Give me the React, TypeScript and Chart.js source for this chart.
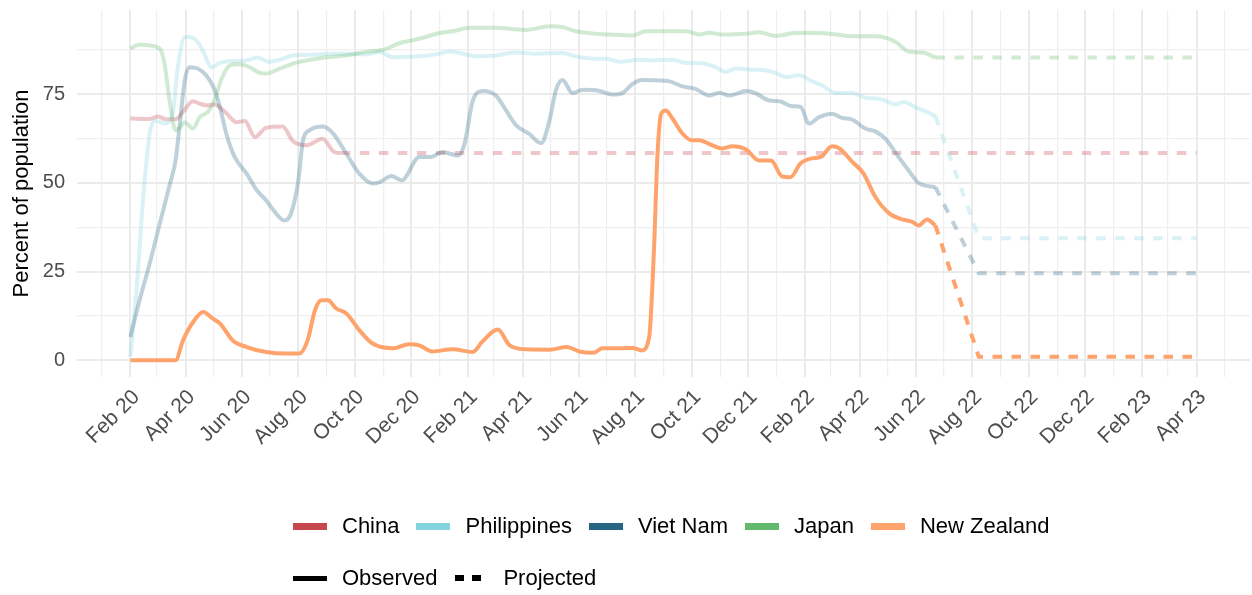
import React, { useEffect, useRef } from 'react';
import { Chart, registerables } from 'chart.js';
Chart.register(...registerables);

// ---------- axis ticks ----------
const xMajorDates = ['2020-02-01','2020-04-01','2020-06-01','2020-08-01','2020-10-01','2020-12-01','2021-02-01','2021-04-01','2021-06-01','2021-08-01','2021-10-01','2021-12-01','2022-02-01','2022-04-01','2022-06-01','2022-08-01','2022-10-01','2022-12-01','2023-02-01','2023-04-01'];
const xMajorLabels = ['Feb 20','Apr 20','Jun 20','Aug 20','Oct 20','Dec 20','Feb 21','Apr 21','Jun 21','Aug 21','Oct 21','Dec 21','Feb 22','Apr 22','Jun 22','Aug 22','Oct 22','Dec 22','Feb 23','Apr 23'];
const xMinorDates = ['2020-01-01','2020-03-01','2020-05-01','2020-07-01','2020-09-01','2020-11-01','2021-01-01','2021-03-01','2021-05-01','2021-07-01','2021-09-01','2021-11-01','2022-01-01','2022-03-01','2022-05-01','2022-07-01','2022-09-01','2022-11-01','2023-01-01','2023-03-01','2023-05-01'];
const yMajorTicks = [0, 25, 50, 75];
const yMinorTicks = [12.5, 37.5, 62.5, 87.5];

// ---------- series ----------
const chinaDates = ['2020-02-01','2020-02-22','2020-03-02','2020-03-11','2020-03-21','2020-03-29','2020-04-09','2020-04-16','2020-04-25','2020-05-02','2020-05-15','2020-05-26','2020-06-04','2020-06-15','2020-06-27','2020-07-15','2020-07-26','2020-08-10','2020-08-27','2020-09-09','2020-09-16'];
const chinaValues = [68.1,68,68.7,67.9,67.9,70,73,72.3,71.8,72.1,69.6,67.1,67.4,62.9,65.5,65.9,61.8,60.6,62.4,58.7,58.4];
const chinaProjDates = ['2020-09-16','2023-04-01'];
const chinaProjValues = [58.4,58.4];

const philDates = ['2020-02-01','2020-02-08','2020-02-15','2020-02-22','2020-02-28','2020-03-09','2020-03-18','2020-03-23','2020-03-31','2020-04-05','2020-04-14','2020-04-21','2020-04-29','2020-05-08','2020-05-22','2020-06-06','2020-06-17','2020-07-01','2020-07-12','2020-07-26','2020-08-17','2020-09-01','2020-09-22','2020-10-13','2020-10-28','2020-11-11','2020-12-06','2020-12-28','2021-01-12','2021-01-26','2021-02-10','2021-03-03','2021-03-25','2021-04-15','2021-05-14','2021-05-29','2021-06-19','2021-06-30','2021-07-15','2021-08-05','2021-08-19','2021-09-10','2021-09-25','2021-10-12','2021-10-27','2021-11-07','2021-11-18','2021-12-05','2021-12-20','2021-12-31','2022-01-11','2022-01-25','2022-02-08','2022-02-19','2022-03-06','2022-03-24','2022-04-07','2022-04-25','2022-05-10','2022-05-19','2022-06-01','2022-06-15','2022-06-22'];
const philValues = [1,20.7,46,63.9,67.6,66.7,69.6,81.7,91.1,91.1,89.7,86.4,82.6,83.8,84.3,84.5,85.3,84.1,84.7,85.9,86.1,86.4,86.4,86.2,86.9,85.4,85.6,86.2,87,86.4,85.7,85.9,86.7,86.4,86.6,85.6,85,85,84.1,84.7,84.5,84.7,83.8,83.7,82.6,81.2,82.2,81.9,81.7,81,79.8,80.3,78.7,77.5,75.3,75.3,74,73.5,72.1,72.8,71.2,69.7,68.8];
const philProjDates = ['2022-06-22','2022-08-08','2023-04-01'];
const philProjValues = [68.8,34.4,34.4];

const vietDates = ['2020-02-01','2020-02-11','2020-02-22','2020-03-04','2020-03-15','2020-03-21','2020-03-26','2020-03-31','2020-04-05','2020-04-14','2020-04-23','2020-05-01','2020-05-08','2020-05-15','2020-05-24','2020-06-06','2020-06-17','2020-06-27','2020-07-05','2020-07-17','2020-07-24','2020-08-01','2020-08-06','2020-08-13','2020-08-28','2020-09-08','2020-09-22','2020-10-06','2020-10-21','2020-10-28','2020-11-10','2020-11-21','2020-12-10','2020-12-23','2021-01-04','2021-01-21','2021-01-28','2021-02-06','2021-02-17','2021-03-03','2021-03-14','2021-03-25','2021-04-08','2021-04-21','2021-04-30','2021-05-07','2021-05-14','2021-05-25','2021-06-05','2021-06-23','2021-07-07','2021-07-18','2021-07-29','2021-08-08','2021-08-23','2021-09-07','2021-09-21','2021-10-05','2021-10-20','2021-10-31','2021-11-11','2021-11-29','2021-12-09','2021-12-24','2022-01-04','2022-01-18','2022-01-27','2022-02-05','2022-02-16','2022-03-02','2022-03-13','2022-03-24','2022-04-07','2022-04-18','2022-04-29','2022-05-13','2022-05-24','2022-06-04','2022-06-22'];
const vietValues = [6.6,16.9,27.3,38.6,49.8,56.3,67.6,78.9,82.6,82.2,80.3,77,71.4,63.8,57.3,52.6,47.9,45.1,42.3,39.4,41.3,50.7,62,64.8,65.9,63.8,58.2,52.6,49.8,50.2,51.9,50.7,57.3,57.3,58.7,57.7,61,73.2,75.9,74.6,70.4,66.2,63.8,61.2,67.6,76.1,79,75.3,76.2,75.9,74.9,75.3,77.9,79,78.9,78.6,77.2,76.5,74.6,75.4,74.6,75.9,75.3,73.2,73,71.6,71.4,66.7,68.5,69.5,68.3,67.8,65.3,64.5,62.4,57.3,53.5,49.9,48.8];
const vietProjDates = ['2022-06-22','2022-08-08','2023-04-01'];
const vietProjValues = [48.8,24.5,24.5];

const japanDates = ['2020-02-01','2020-02-11','2020-02-22','2020-03-04','2020-03-09','2020-03-15','2020-03-21','2020-03-26','2020-03-31','2020-04-09','2020-04-16','2020-04-25','2020-05-02','2020-05-10','2020-05-19','2020-05-30','2020-06-09','2020-06-20','2020-06-27','2020-07-12','2020-07-26','2020-08-10','2020-09-01','2020-09-22','2020-10-13','2020-11-01','2020-11-19','2020-12-10','2021-01-01','2021-01-15','2021-02-02','2021-03-03','2021-03-18','2021-04-05','2021-04-30','2021-05-14','2021-05-29','2021-06-19','2021-07-11','2021-07-29','2021-08-12','2021-09-25','2021-10-09','2021-10-20','2021-11-03','2021-11-29','2021-12-13','2021-12-31','2022-01-22','2022-02-16','2022-03-06','2022-03-24','2022-04-18','2022-05-10','2022-05-24','2022-06-08','2022-06-22'];
const japanValues = [87.8,89,88.7,87.8,83.6,72.3,64.8,65.7,67.1,65.3,68.5,70,73.2,79.4,83.1,83.4,82.6,81,80.8,82.2,83.6,84.5,85.4,85.9,86.9,87.5,89.4,90.6,92.2,92.7,93.7,93.7,93.4,93.1,94.1,93.9,92.7,92,91.7,91.5,92.7,92.7,91.8,92.3,91.8,92,92.4,91.4,92.2,92.2,91.8,91.3,91.3,89.7,87,86.7,85.3];
const japanProjDates = ['2022-06-22','2023-04-01'];
const japanProjValues = [85.3,85.3];

const nzDates = ['2020-02-01','2020-03-21','2020-03-29','2020-04-09','2020-04-20','2020-04-30','2020-05-08','2020-05-22','2020-06-06','2020-06-27','2020-07-19','2020-08-02','2020-08-11','2020-08-19','2020-08-26','2020-09-02','2020-09-11','2020-09-22','2020-10-06','2020-10-20','2020-11-11','2020-11-29','2020-12-10','2020-12-24','2021-01-15','2021-02-06','2021-02-16','2021-03-05','2021-03-18','2021-04-05','2021-04-30','2021-05-19','2021-06-01','2021-06-17','2021-06-26','2021-07-15','2021-07-29','2021-08-08','2021-08-16','2021-08-21','2021-08-25','2021-08-29','2021-09-03','2021-09-10','2021-09-21','2021-10-01','2021-10-09','2021-10-23','2021-11-03','2021-11-14','2021-11-29','2021-12-13','2021-12-26','2022-01-07','2022-01-16','2022-01-27','2022-02-08','2022-02-18','2022-03-02','2022-03-10','2022-03-24','2022-04-05','2022-04-18','2022-05-03','2022-05-17','2022-05-28','2022-06-04','2022-06-13','2022-06-22'];
const nzValues = [0,0,5.6,10.8,13.6,11.8,10.4,5.6,3.75,2.35,1.9,1.9,5.6,14.1,16.9,16.9,14.6,13.2,8.5,4.8,3.4,4.5,4.2,2.5,3.1,2.35,5.2,8.7,4.2,3.1,3.0,3.75,2.5,2.1,3.4,3.4,3.5,2.8,6.6,30,58,69.5,70.4,68.2,63.9,62,62,60.6,59.7,60.3,59.4,56.3,56.3,51.8,51.6,55.5,56.9,57.3,60.3,59.7,55.9,52.7,46,41.4,39.7,39,38,39.7,38];
const nzProjDates = ['2022-06-22','2022-08-08','2023-04-01'];
const nzProjValues = [38,1,1];

const countryNames = ['China', 'Philippines', 'Viet Nam', 'Japan', 'New Zealand'];
const countryColors = ['#C7474F', '#84D4DF', '#276482', '#63BA6E', '#FFA36C'];
const countryAlpha = [0.3, 0.3, 0.3, 0.3, 1];

const FONT = '"Liberation Sans", Arial, Helvetica, sans-serif';
const BASE = Date.UTC(2020, 1, 1);
const dayOf = (s: string) => {
  const [y, m, d] = s.split('-').map(Number);
  return (Date.UTC(y, m - 1, d) - BASE) / 86400000;
};
const pts = (dates: string[], vals: number[]) => dates.map((d, i) => ({ x: dayOf(d), y: vals[i] }));
const rgba = (hex: string, a: number) => {
  const n = parseInt(hex.slice(1), 16);
  return `rgba(${(n >> 16) & 255},${(n >> 8) & 255},${n & 255},${a})`;
};

export default function App() {
  const ref = useRef<HTMLCanvasElement | null>(null);

  useEffect(() => {
    document.body.style.margin = '0';
    const canvas = ref.current;
    if (!canvas) return;

    const observed = [
      [chinaDates, chinaValues], [philDates, philValues], [vietDates, vietValues],
      [japanDates, japanValues], [nzDates, nzValues],
    ] as [string[], number[]][];
    const projected = [
      [chinaProjDates, chinaProjValues], [philProjDates, philProjValues], [vietProjDates, vietProjValues],
      [japanProjDates, japanProjValues], [nzProjDates, nzProjValues],
    ] as [string[], number[]][];

    const datasets: any[] = [];
    const order = [4, 3, 2, 1, 0];
    order.forEach((i, k) => {
      const col = rgba(countryColors[i], countryAlpha[i]);
      datasets.push({
        label: countryNames[i],
        data: pts(observed[i][0], observed[i][1]),
        borderColor: col,
        borderWidth: 4,
        pointRadius: 0,
        fill: false,
        tension: 0.4,
        cubicInterpolationMode: 'monotone',
        borderJoinStyle: 'round',
        order: k * 2,
      });
      datasets.push({
        label: countryNames[i] + ' projected',
        data: pts(projected[i][0], projected[i][1]),
        borderColor: col,
        borderWidth: 4,
        borderDash: [9.5, 9.5],
        pointRadius: 0,
        fill: false,
        tension: 0,
        order: k * 2 + 1,
      });
    });

    const majorX = xMajorDates.map(dayOf);
    const minorX = xMinorDates.map(dayOf);
    const labelMap = new Map<number, string>();
    majorX.forEach((v, i) => labelMap.set(v, xMajorLabels[i]));
    const allX = [...majorX, ...minorX].sort((a, b) => a - b);
    const allY = [...yMajorTicks, ...yMinorTicks].sort((a, b) => a - b);

    const chart = new Chart(canvas, {
      type: 'line',
      data: { datasets },
      options: {
        responsive: false,
        animation: false,
        layout: { padding: { top: 10, right: 2, left: 0, bottom: 0 } },
        plugins: { legend: { display: false }, tooltip: { enabled: false } },
        scales: {
          x: {
            type: 'linear',
            min: -57.75,
            max: 1212.75,
            afterBuildTicks: (s: any) => { s.ticks = allX.map((v) => ({ value: v })); },
            afterFit: (s: any) => { s.height = 218; s.paddingLeft = 0; s.paddingRight = 0; },
            border: { display: false },
            grid: {
              drawTicks: false,
              color: (c: any) => (labelMap.has(c.tick?.value) ? '#EBEBEB' : '#EFEFEF'),
              lineWidth: (c: any) => (labelMap.has(c.tick?.value) ? 2 : 1.2),
            },
            ticks: {
              autoSkip: false,
              maxRotation: 45,
              minRotation: 45,
              padding: 8,
              labelOffset: 6,
              color: '#4D4D4D',
              font: { family: FONT, size: 21 },
              callback: (v: any) => labelMap.get(Number(v)) ?? '',
            },
          },
          y: {
            type: 'linear',
            min: -4.7,
            max: 98.7,
            afterBuildTicks: (s: any) => { s.ticks = allY.map((v) => ({ value: v })); },
            afterFit: (s: any) => { s.width = 77; s.paddingTop = 0; s.paddingBottom = 0; },
            border: { display: false },
            grid: {
              drawTicks: false,
              color: (c: any) => (yMajorTicks.includes(c.tick?.value) ? '#EBEBEB' : '#EFEFEF'),
              lineWidth: (c: any) => (yMajorTicks.includes(c.tick?.value) ? 2 : 1.2),
            },
            ticks: {
              padding: 12,
              color: '#4D4D4D',
              font: { family: FONT, size: 20 },
              callback: (v: any) => (yMajorTicks.includes(Number(v)) ? String(v) : ''),
            },
            title: {
              display: true,
              text: 'Percent of population',
              color: '#000000',
              font: { family: FONT, size: 22, lineHeight: 1.2 },
              padding: { top: 9, bottom: 0 },
            },
          },
        },
      } as any,
    });
    return () => chart.destroy();
  }, []);

  const textStyle: React.CSSProperties = { fontFamily: FONT, fontSize: 22, color: '#000', marginRight: 17, lineHeight: '26px' };
  const swatch = (bg: string, h: number): React.CSSProperties => ({ width: 34, height: h, background: bg, marginRight: 15 });

  return (
    <div style={{ position: 'relative', width: 1252, height: 595, background: '#fff', overflow: 'hidden' }}>
      <canvas ref={ref} width={1252} height={595} style={{ position: 'absolute', left: 0, top: 0, width: 1252, height: 595 }} />
      <div style={{ position: 'absolute', left: 293, top: 513, display: 'flex', alignItems: 'center' }}>
        {countryNames.map((n, i) => (
          <React.Fragment key={n}>
            <div style={swatch(countryColors[i], 7)} />
            <span style={textStyle}>{n}</span>
          </React.Fragment>
        ))}
      </div>
      <div style={{ position: 'absolute', left: 293, top: 565, display: 'flex', alignItems: 'center' }}>
        <div style={swatch('#000', 5)} />
        <span style={{ ...textStyle, marginRight: 18 }}>Observed</span>
        <div style={{ width: 34, height: 6, marginRight: 14, display: 'flex' }}>
          <div style={{ width: 9, height: 6, background: '#000', marginRight: 8 }} />
          <div style={{ width: 9, height: 6, background: '#000' }} />
        </div>
        <span style={textStyle}>Projected</span>
      </div>
    </div>
  );
}
